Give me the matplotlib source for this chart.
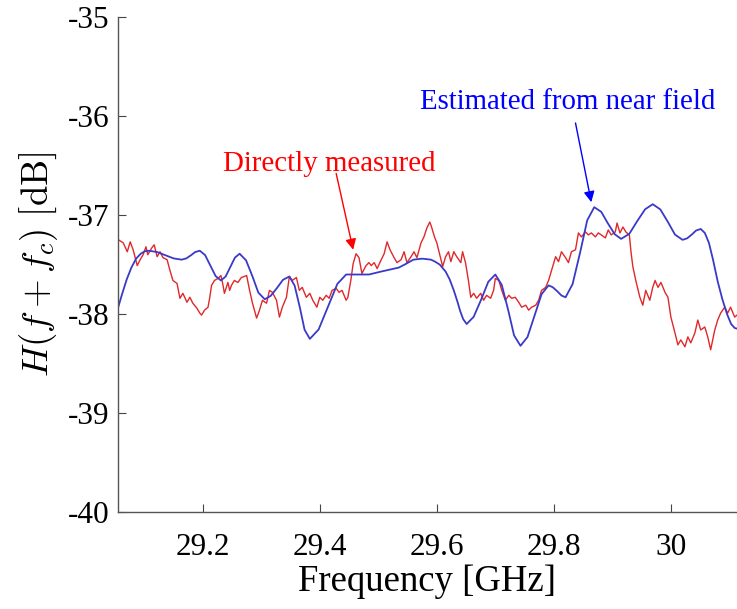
import matplotlib
matplotlib.use("Agg")
import matplotlib.pyplot as plt

# measured channel (red) and estimate from near field (blue)
meas_f = [29.056, 29.064, 29.071, 29.076, 29.081, 29.088, 29.093, 29.098, 29.103, 29.106,
          29.113, 29.117, 29.122, 29.127, 29.132, 29.139, 29.144, 29.149, 29.156, 29.161,
          29.166, 29.173, 29.178, 29.183, 29.190, 29.195, 29.198, 29.203, 29.209, 29.212,
          29.215, 29.220, 29.226, 29.231, 29.234, 29.237, 29.243, 29.246, 29.249, 29.254,
          29.260, 29.266, 29.271, 29.275, 29.280, 29.285, 29.292, 29.297, 29.302, 29.309,
          29.314, 29.319, 29.326, 29.331, 29.336, 29.343, 29.348, 29.353, 29.360, 29.365,
          29.370, 29.377, 29.383, 29.388, 29.395, 29.400, 29.405, 29.411, 29.416, 29.421,
          29.428, 29.433, 29.438, 29.445, 29.448, 29.453, 29.457, 29.462, 29.467, 29.472,
          29.479, 29.484, 29.488, 29.493, 29.498, 29.505, 29.510, 29.515, 29.520, 29.527,
          29.532, 29.539, 29.544, 29.549, 29.556, 29.561, 29.566, 29.573, 29.578, 29.583,
          29.588, 29.591, 29.596, 29.600, 29.605, 29.610, 29.615, 29.620, 29.624, 29.629,
          29.634, 29.641, 29.644, 29.649, 29.654, 29.658, 29.663, 29.668, 29.675, 29.680,
          29.685, 29.692, 29.697, 29.700, 29.706, 29.711, 29.717, 29.723, 29.728, 29.734,
          29.740, 29.745, 29.752, 29.757, 29.762, 29.769, 29.774, 29.779, 29.786, 29.791,
          29.796, 29.803, 29.808, 29.813, 29.820, 29.825, 29.830, 29.837, 29.842, 29.847,
          29.854, 29.859, 29.864, 29.871, 29.876, 29.881, 29.888, 29.893, 29.898, 29.905,
          29.908, 29.913, 29.918, 29.923, 29.929, 29.932, 29.935, 29.940, 29.947, 29.952,
          29.957, 29.964, 29.969, 29.973, 29.978, 29.983, 29.990, 29.995, 30.000, 30.007,
          30.012, 30.017, 30.024, 30.029, 30.034, 30.041, 30.046, 30.051, 30.058, 30.063,
          30.068, 30.075, 30.080, 30.085, 30.092, 30.097, 30.102, 30.109, 30.115]
meas_db = [-37.25, -37.28, -37.37, -37.27, -37.35, -37.51, -37.45, -37.40, -37.32, -37.40,
           -37.33, -37.30, -37.42, -37.37, -37.43, -37.45, -37.56, -37.66, -37.69, -37.84,
           -37.79, -37.88, -37.83, -37.89, -37.94, -37.99, -38.01, -37.96, -37.93, -37.83,
           -37.71, -37.66, -37.64, -37.61, -37.69, -37.79, -37.68, -37.76, -37.71, -37.66,
           -37.68, -37.63, -37.62, -37.61, -37.76, -37.89, -38.04, -37.96, -37.86, -37.89,
           -37.76, -37.78, -37.86, -38.03, -37.93, -37.83, -37.62, -37.66, -37.63, -37.76,
           -37.73, -37.83, -37.79, -37.86, -37.93, -37.83, -37.86, -37.81, -37.84, -37.76,
           -37.74, -37.78, -37.76, -37.86, -37.83, -37.66, -37.49, -37.39, -37.43, -37.59,
           -37.51, -37.48, -37.51, -37.48, -37.54, -37.45, -37.39, -37.27, -37.35, -37.43,
           -37.48, -37.45, -37.37, -37.48, -37.42, -37.37, -37.43, -37.28, -37.22, -37.13,
           -37.07, -37.12, -37.22, -37.28, -37.40, -37.52, -37.42, -37.37, -37.47, -37.37,
           -37.42, -37.48, -37.37, -37.48, -37.66, -37.83, -37.79, -37.84, -37.79, -37.86,
           -37.81, -37.84, -37.76, -37.64, -37.66, -37.76, -37.86, -37.81, -37.84, -37.83,
           -37.88, -37.93, -37.91, -37.96, -37.93, -37.91, -37.86, -37.76, -37.73, -37.66,
           -37.56, -37.42, -37.47, -37.37, -37.43, -37.48, -37.37, -37.35, -37.18, -37.22,
           -37.17, -37.20, -37.18, -37.22, -37.18, -37.20, -37.23, -37.15, -37.20, -37.17,
           -37.08, -37.18, -37.12, -37.17, -37.20, -37.38, -37.52, -37.66, -37.83, -37.91,
           -37.76, -37.86, -37.73, -37.66, -37.73, -37.68, -37.78, -37.83, -38.03, -38.19,
           -38.31, -38.26, -38.33, -38.23, -38.29, -38.19, -38.06, -38.16, -38.13, -38.23,
           -38.36, -38.16, -38.06, -37.99, -37.93, -37.99, -37.93, -38.03, -38.00]

est_f = [29.055, 29.062, 29.070, 29.078, 29.086, 29.094, 29.101, 29.108,
         29.122, 29.136, 29.150, 29.164, 29.172, 29.180, 29.187, 29.195,
         29.204, 29.213, 29.222, 29.231, 29.239, 29.247, 29.255, 29.263,
         29.274, 29.285, 29.295, 29.306, 29.316, 29.327, 29.337, 29.348,
         29.357, 29.366, 29.374, 29.383, 29.398, 29.414, 29.430, 29.445,
         29.465, 29.484, 29.505, 29.520, 29.535, 29.548, 29.560, 29.575,
         29.583, 29.590, 29.597, 29.605, 29.615, 29.622, 29.629, 29.635,
         29.640, 29.645, 29.651, 29.663, 29.676, 29.688, 29.700, 29.711,
         29.722, 29.732, 29.743, 29.755, 29.767, 29.779, 29.791, 29.798,
         29.806, 29.813, 29.820, 29.832, 29.845, 29.857, 29.869, 29.881,
         29.892, 29.904, 29.915, 29.929, 29.942, 29.956, 29.969, 29.982,
         29.995, 30.007, 30.020, 30.028, 30.036, 30.043, 30.051, 30.058,
         30.065, 30.072, 30.080, 30.088, 30.096, 30.103, 30.109, 30.115]
est_db = [-37.94, -37.80, -37.65, -37.53, -37.44, -37.39, -37.365, -37.36,
          -37.373, -37.405, -37.437, -37.45, -37.437, -37.405, -37.373, -37.36,
          -37.404, -37.51, -37.616, -37.66, -37.621, -37.525, -37.429, -37.39,
          -37.457, -37.62, -37.783, -37.85, -37.816, -37.735, -37.654, -37.62,
          -37.712, -37.935, -38.158, -38.25, -38.155, -37.925, -37.695, -37.60,
          -37.60, -37.60, -37.57, -37.55, -37.53, -37.49, -37.45, -37.44,
          -37.445, -37.45, -37.47, -37.50, -37.57, -37.65, -37.76, -37.87,
          -37.97, -38.05, -38.10, -38.027, -37.85, -37.673, -37.60, -37.705,
          -37.96, -38.215, -38.32, -38.231, -38.015, -37.799, -37.71, -37.728,
          -37.77, -37.812, -37.83, -37.697, -37.375, -37.053, -36.92, -36.967,
          -37.08, -37.193, -37.24, -37.189, -37.065, -36.941, -36.89, -36.943,
          -37.07, -37.197, -37.25, -37.234, -37.195, -37.156, -37.14, -37.18,
          -37.28, -37.45, -37.67, -37.85, -38.00, -38.10, -38.14, -38.15]

x_ticks = [29.2, 29.4, 29.6, 29.8, 30.0]
x_ticklabels = ["29.2", "29.4", "29.6", "29.8", "30"]
y_ticks = [-40, -39, -38, -37, -36, -35]
y_ticklabels = ["-40", "-39", "-38", "-37", "-36", "-35"]

plt.rcParams["mathtext.fontset"] = "cm"
SERIF = "Liberation Serif"

fig = plt.figure(figsize=(7.37, 6.09), dpi=100)
ax = fig.add_axes([0.160, 0.159, 0.840, 0.813])

ax.plot(meas_f, meas_db, color="#e0282a", lw=1.0)
ax.plot(est_f, est_db, color="#3a3ac8", lw=1.3)

ax.set_xlim(29.055, 30.113)
ax.set_ylim(-40, -35)
ax.set_xticks(x_ticks)
ax.set_xticklabels(x_ticklabels, family=SERIF, fontsize=22.5)
ax.set_yticks(y_ticks)
ax.set_yticklabels(y_ticklabels, family=SERIF, fontsize=22.5)
ax.tick_params(direction="in", length=6, width=0.8, color="#444")
ax.tick_params(axis="x", pad=15)
ax.tick_params(axis="y", pad=6)
for s in ("top", "right"):
    ax.spines[s].set_visible(False)
for s in ("left", "bottom"):
    ax.spines[s].set_color("#555")
    ax.spines[s].set_linewidth(1.0)

ax.set_xlabel("Frequency [GHz]", family=SERIF, fontsize=26.5, labelpad=2)
ax.set_ylabel(r"$H(f + f_c)\ \mathrm{[dB]}$", fontsize=26.5, labelpad=6)

# labels with their arrows
ax.text(29.416, -36.48, "Directly measured", ha="center", va="center",
        color="#ff0000", family=SERIF, fontsize=20.8)
ax.annotate("", xy=(29.457, -37.35), xytext=(29.428, -36.58),
            arrowprops=dict(arrowstyle="-|>", color="#ff0000", lw=1.0,
                            mutation_scale=16, shrinkA=0, shrinkB=0))
ax.text(29.823, -35.86, "Estimated from near field", ha="center", va="center",
        color="#0000ff", family=SERIF, fontsize=20.8)
ax.annotate("", xy=(29.864, -36.87), xytext=(29.837, -36.07),
            arrowprops=dict(arrowstyle="-|>", color="#0000ff", lw=1.0,
                            mutation_scale=16, shrinkA=0, shrinkB=0))

plt.savefig("out.png", dpi=100)
